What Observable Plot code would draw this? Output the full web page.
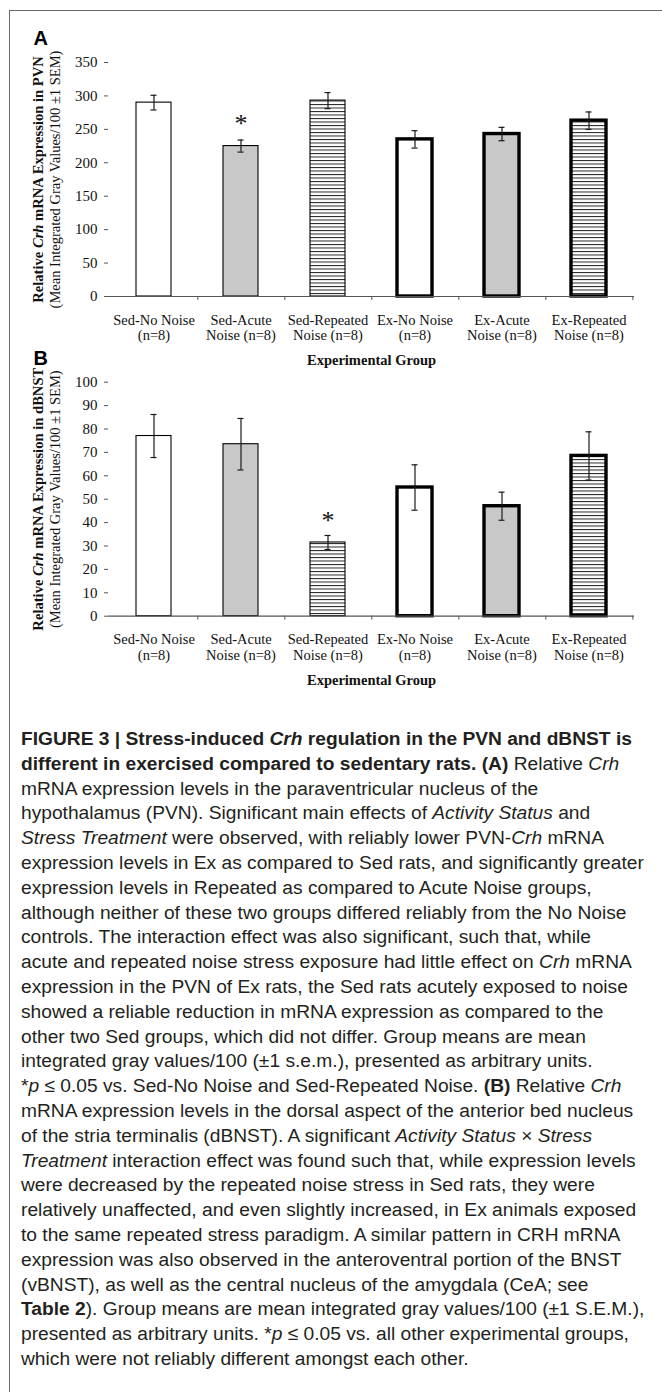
<!DOCTYPE html>
<html><head><meta charset="utf-8">
<script src="https://cdn.jsdelivr.net/npm/d3@7"></script>
<script src="https://cdn.jsdelivr.net/npm/@observablehq/plot@0.6"></script>
<style>
body{margin:0;background:#fff;}
#page{position:relative;width:662px;height:1392px;overflow:hidden;background:#fff;}
#frame{position:absolute;left:9px;top:10px;width:700px;height:1400px;border-top:1.5px solid #6a6a6a;border-left:1.5px solid #6a6a6a;}
.panel{position:absolute;left:0;}
#caption{position:absolute;left:21px;top:727px;font-family:"Liberation Sans",Arial,sans-serif;font-size:19.2px;line-height:24.8px;color:#231f20;white-space:nowrap;}
</style></head>
<body><div id="page"><div id="frame"></div>
<svg width="0" height="0" style="position:absolute"><defs>
<pattern id="hatch" patternUnits="userSpaceOnUse" width="8" height="3.5"><rect width="8" height="3.5" fill="#fff"/><rect y="0" width="8" height="1" fill="#222"/></pattern>
</defs></svg>
<div id="panelA" class="panel" style="top:20px"></div>
<div id="panelB" class="panel" style="top:340px"></div>
<div id="caption">
<div><b>FIGURE 3 | Stress-induced <i>Crh</i> regulation in the PVN and dBNST is</b></div>
<div><b>different in exercised compared to sedentary rats. (A)</b> Relative <i>Crh</i></div>
<div>mRNA expression levels in the paraventricular nucleus of the</div>
<div>hypothalamus (PVN). Significant main effects of <i>Activity Status</i> and</div>
<div><i>Stress Treatment</i> were observed, with reliably lower PVN-<i>Crh</i> mRNA</div>
<div>expression levels in Ex as compared to Sed rats, and significantly greater</div>
<div>expression levels in Repeated as compared to Acute Noise groups,</div>
<div>although neither of these two groups differed reliably from the No Noise</div>
<div>controls. The interaction effect was also significant, such that, while</div>
<div>acute and repeated noise stress exposure had little effect on <i>Crh</i> mRNA</div>
<div>expression in the PVN of Ex rats, the Sed rats acutely exposed to noise</div>
<div>showed a reliable reduction in mRNA expression as compared to the</div>
<div>other two Sed groups, which did not differ. Group means are mean</div>
<div>integrated gray values/100 (±1 s.e.m.), presented as arbitrary units.</div>
<div>*<i>p</i> ≤ 0.05 vs. Sed-No Noise and Sed-Repeated Noise. <b>(B)</b> Relative <i>Crh</i></div>
<div>mRNA expression levels in the dorsal aspect of the anterior bed nucleus</div>
<div>of the stria terminalis (dBNST). A significant <i>Activity Status</i> × <i>Stress</i></div>
<div><i>Treatment</i> interaction effect was found such that, while expression levels</div>
<div>were decreased by the repeated noise stress in Sed rats, they were</div>
<div>relatively unaffected, and even slightly increased, in Ex animals exposed</div>
<div>to the same repeated stress paradigm. A similar pattern in CRH mRNA</div>
<div>expression was also observed in the anteroventral portion of the BNST</div>
<div>(vBNST), as well as the central nucleus of the amygdala (CeA; see</div>
<div><b>Table 2</b>). Group means are mean integrated gray values/100 (±1 S.E.M.),</div>
<div>presented as arbitrary units. *<i>p</i> ≤ 0.05 vs. all other experimental groups,</div>
<div>which were not reliably different amongst each other.</div>
</div>
</div>
<script>
// ---- data ----
const groups = ["Sed-No Noise", "Sed-Acute Noise", "Sed-Repeated Noise", "Ex-No Noise", "Ex-Acute Noise", "Ex-Repeated Noise"];
const groupLabels = ["Sed-No Noise\n(n=8)", "Sed-Acute\nNoise (n=8)", "Sed-Repeated\nNoise (n=8)", "Ex-No Noise\n(n=8)", "Ex-Acute\nNoise (n=8)", "Ex-Repeated\nNoise (n=8)"];
const activity = ["Sed", "Sed", "Sed", "Ex", "Ex", "Ex"];
const treatment = ["No Noise", "Acute", "Repeated", "No Noise", "Acute", "Repeated"];
const pvnMean = [290, 225, 293, 235, 243, 263];
const pvnSem = [11, 9, 12, 13, 10, 13];
const bnstMean = [77, 73.5, 31.5, 55, 47, 68.5];
const bnstSem = [9.2, 11, 3, 9.7, 6, 10.3];
const pvnTicks = [0, 50, 100, 150, 200, 250, 300, 350];
const bnstTicks = [0, 10, 20, 30, 40, 50, 60, 70, 80, 90, 100];
const pvnStar = ["Sed-Acute Noise"];
const bnstStar = ["Sed-Repeated Noise"];
const treatmentKeys = ["No Noise", "Acute", "Repeated"];
const treatmentFills = ["#ffffff", "#c8c8c8", "url(#hatch)"];

const serif = "'Liberation Serif','Times New Roman',serif";

function panel({letter, mean, sem, ticks, star, starDy, label1, label1Html, label2, marginTop, height, marginBottom}) {
  const data = groups.map((g, i) => ({
    g, label: groupLabels[i], v: mean[i], lo: mean[i] - sem[i], hi: mean[i] + sem[i],
    t: treatment[i], sw: activity[i] === "Ex" ? 3.4 : 1.1
  }));
  const W = 662, ML = 108, MR = 28;
  const step = (W - ML - MR) / groups.length;
  const chart = Plot.plot({
    width: W, height, marginLeft: ML, marginRight: MR, marginTop, marginBottom,
    style: {fontFamily: serif, fontSize: "14.5px", color: "#111", background: "transparent", overflow: "visible"},
    x: {domain: groups, type: "band", paddingInner: 0.6, paddingOuter: 0.3, axis: null},
    y: {domain: [ticks[0], ticks[ticks.length - 1]], axis: null},
    color: {type: "ordinal", domain: treatmentKeys, range: treatmentFills},
    marks: [
      Plot.barY(data, {x: "g", y: "v", fill: "t", stroke: "#000", strokeWidth: "sw"}),
      Plot.ruleX(data, {x: "g", y1: "lo", y2: "hi", stroke: "#1a1a1a", strokeWidth: 1.2}),
      Plot.tickY(data, {x: "g", y: "lo", insetLeft: 14.5, insetRight: 14.5, stroke: "#1a1a1a", strokeWidth: 1.2}),
      Plot.tickY(data, {x: "g", y: "hi", insetLeft: 14.5, insetRight: 14.5, stroke: "#1a1a1a", strokeWidth: 1.2}),
      Plot.text(data.filter(d => star.includes(d.g)), {x: "g", y: "hi", text: () => "*", dy: starDy, fontSize: 26, fill: "#111"}),
      Plot.ruleY([ticks[0]], {stroke: "#555", strokeWidth: 1.2}),
      Plot.axisY({ticks, tickSize: 4, tickPadding: 7, line: true, stroke: "#555", label: null, fontSize: 15, fill: "#111"}),
      Plot.axisX({ticks: groups, tickSize: 4, tickFormat: () => "", dx: step / 2, stroke: "#555", label: null}),
      Plot.text(data, {x: "g", text: "label", frameAnchor: "bottom", dy: 17, lineAnchor: "top", lineHeight: 1.08, fontSize: 14.5, fill: "#111"}),
      Plot.text(["Experimental Group"], {frameAnchor: "bottom", dy: 64, lineAnchor: "middle", fontWeight: "bold", fontSize: 14.5, fill: "#111"}),
      Plot.text([label1], {frameAnchor: "left", rotate: -90, dx: -70, textAnchor: "middle", lineAnchor: "middle", fontWeight: "bold", fontSize: 14.6, fill: "#111"}),
      Plot.text([label2], {frameAnchor: "left", rotate: -90, dx: -53, textAnchor: "middle", lineAnchor: "middle", fontSize: 14.5, fill: "#111"}),
      Plot.text([letter], {frameAnchor: "top-left", dx: 33 - ML, dy: 18 - marginTop, textAnchor: "start", lineAnchor: "middle", fontFamily: "'Liberation Sans',Arial,sans-serif", fontWeight: "bold", fontSize: 20, fill: "#000"})
    ]
  });
  chart.querySelectorAll("text").forEach(t => {
    if (t.textContent === label1) t.innerHTML = label1Html;
  });
  return chart;
}

document.getElementById("panelA").appendChild(panel({
  letter: "A", mean: pvnMean, sem: pvnSem, ticks: pvnTicks, star: pvnStar, starDy: -16,
  label1: "Relative Crh mRNA Expression in PVN",
  label1Html: 'Relative <tspan font-style="italic">Crh</tspan> mRNA Expression in PVN',
  label2: "(Mean Integrated Gray Values/100 ±1 SEM)",
  marginTop: 42, height: 352, marginBottom: 76
}));
document.getElementById("panelB").appendChild(panel({
  letter: "B", mean: bnstMean, sem: bnstSem, ticks: bnstTicks, star: bnstStar, starDy: -15,
  label1: "Relative Crh mRNA Expression in dBNST",
  label1Html: 'Relative <tspan font-style="italic">Crh</tspan> mRNA Expression in dBNST',
  label2: "(Mean Integrated Gray Values/100 ±1 SEM)",
  marginTop: 41.7, height: 350, marginBottom: 74.3
}));
</script>
</body></html>
